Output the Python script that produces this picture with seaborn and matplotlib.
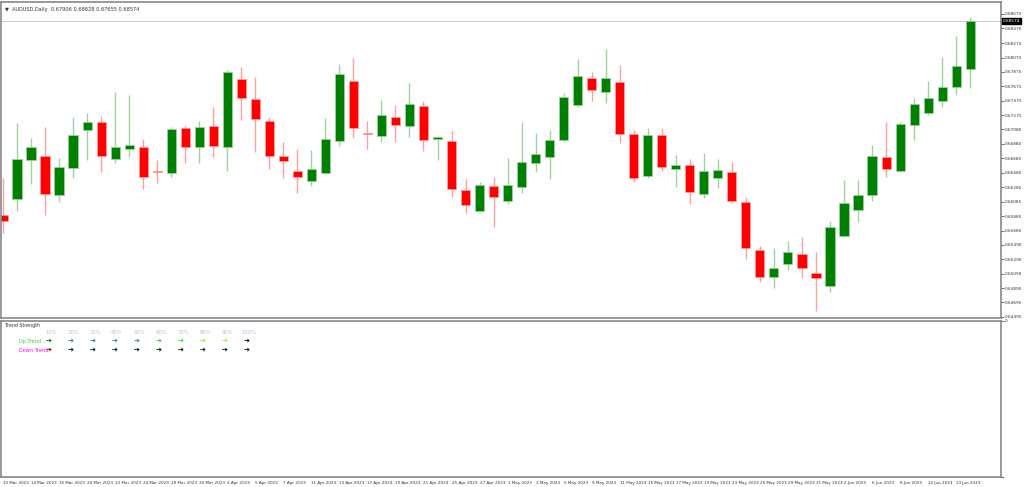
import numpy as np
import pandas as pd
import matplotlib
matplotlib.use("Agg")
import matplotlib.pyplot as plt
import seaborn as sns

opens = [0.65900,0.66121,0.66658,0.66713,0.66176,0.66548,0.67072,0.67182,0.66672,0.66810,
         0.66837,0.66507,0.66479,0.67099,0.66837,0.67127,0.66837,0.67774,0.67499,0.67196,
         0.66713,0.66507,0.66369,0.66479,0.66920,0.67747,0.67030,0.66989,0.67251,0.67127,
         0.67402,0.66948,0.66920,0.66245,0.65955,0.66300,0.66093,0.66286,0.66617,0.66700,
         0.66934,0.67416,0.67788,0.67595,0.67733,0.67016,0.66438,0.67003,0.66534,0.66589,
         0.66190,0.66410,0.66493,0.66079,0.65418,0.65046,0.65225,0.65363,0.65101,0.64922,
         0.65611,0.65969,0.66176,0.66700,0.66507,0.67140,0.67306,0.67471,0.67664,0.67906]
closes = [0.65818,0.66672,0.66837,0.66190,0.66562,0.67003,0.67182,0.66713,0.66837,0.66865,
          0.66424,0.66493,0.67085,0.66837,0.67113,0.66851,0.67871,0.67513,0.67223,0.66713,
          0.66644,0.66424,0.66534,0.66948,0.67843,0.67099,0.67016,0.67278,0.67140,0.67430,
          0.66934,0.66975,0.66259,0.66038,0.66314,0.66148,0.66314,0.66631,0.66741,0.66934,
          0.67526,0.67816,0.67623,0.67788,0.67016,0.66410,0.67003,0.66562,0.66589,0.66217,
          0.66507,0.66520,0.66093,0.65446,0.65046,0.65170,0.65390,0.65170,0.65032,0.65735,
          0.66066,0.66176,0.66713,0.66534,0.67154,0.67430,0.67513,0.67664,0.67954,0.68574]
highs = [0.66410,0.67168,0.66961,0.67113,0.66686,0.67251,0.67306,0.67265,0.67595,0.67554,
         0.66948,0.66658,0.67113,0.67140,0.67196,0.67389,0.67898,0.67940,0.67802,0.67251,
         0.66906,0.66810,0.66796,0.67237,0.67981,0.68064,0.67196,0.67485,0.67416,0.67719,
         0.67471,0.66989,0.67058,0.66396,0.66355,0.66424,0.66686,0.67182,0.67030,0.67072,
         0.67581,0.68050,0.67871,0.68188,0.67967,0.67072,0.67099,0.67099,0.66727,0.66672,
         0.66755,0.66672,0.66631,0.66148,0.65473,0.65446,0.65542,0.65597,0.65390,0.65818,
         0.66383,0.66383,0.66865,0.67182,0.67182,0.67513,0.67747,0.68078,0.68367,0.68628]
lows = [0.65652,0.65955,0.66327,0.65900,0.66079,0.66410,0.66658,0.66493,0.66617,0.66700,
        0.66259,0.66341,0.66424,0.66617,0.66617,0.66700,0.66507,0.67209,0.66768,0.66534,
        0.66410,0.66203,0.66300,0.66479,0.66851,0.66961,0.66810,0.66906,0.66906,0.66975,
        0.66782,0.66658,0.66148,0.65928,0.65942,0.65735,0.66052,0.66203,0.66493,0.66396,
        0.66906,0.67389,0.67471,0.67444,0.66892,0.66355,0.66410,0.66507,0.66286,0.66052,
        0.66135,0.66272,0.66066,0.65294,0.64977,0.64894,0.65142,0.65032,0.64577,0.64839,
        0.65611,0.65804,0.66093,0.66424,0.66507,0.66934,0.67278,0.67389,0.67554,0.67655]
dates = pd.bdate_range("2023-03-10", periods=len(opens))
price_ticks = [0.68670,0.68470,0.68270,0.68070,0.67875,0.67675,0.67475,0.67275,0.67080,
               0.66880,0.66680,0.66480,0.66285,0.66085,0.65885,0.65685,0.65490,0.65290,
               0.65090,0.64890,0.64695,0.64495]
levels = ["10%","20%","30%","40%","50%","60%","70%","80%","90%","100%"]
up_colors = ["#006400","#228B22","#228B22","#2E8B57","#2E8B57","#32CD32","#00FF00","#7FFF00","#7FFF00","#000000"]
down_colors = ["#8B0000"] + ["#000000"]*9

sns.set_theme(style="white")
plt.rcParams['font.family'] = ['DejaVu Sans']

W, H = 1024, 487
fig = plt.figure(figsize=(W/100, H/100), dpi=100)
ax = fig.add_axes([1/W, 1-318/H, 1000/W, 316/H])
ax2 = fig.add_axes([1/W, 1-477/H, 1000/W, 156/H])

df = pd.DataFrame({"d": dates, "o": opens, "c": closes, "h": highs, "l": lows})
df["x"] = np.arange(len(df))
df["up"] = df["c"] >= df["o"]
for up, g in df.groupby("up"):
    col = "#008000" if up else "#FF0000"
    wick = "#9fd49f" if up else "#ff9f9f"
    ax.vlines(g["x"], g["l"], g["h"], color=wick, lw=1.0, zorder=1)
    bottom = np.minimum(g["o"], g["c"])
    height = np.maximum(np.abs(g["c"] - g["o"]), 0.00004)
    ax.bar(g["x"], height, bottom=bottom, width=0.65, color=col,
           edgecolor=wick, linewidth=0.5, zorder=2)

ax.set_xlim(-0.14, 71.2)
ax.set_ylim(0.64481, 0.68835)
ax.axhline(closes[-1], color="#d0d0d0", lw=0.8, zorder=0)
ax.yaxis.tick_right()
ax.set_yticks(price_ticks)
ax.set_yticklabels([f"{v:.5f}" for v in price_ticks], fontsize=3.1, color="#333333")
ax.tick_params(axis="y", length=2, width=0.5, pad=1, colors="#333333")
ax.set_xticks([])
ax.text(1.002, closes[-1], f"{closes[-1]:.5f}", transform=ax.get_yaxis_transform(),
        fontsize=3.1, color="white", va="center", ha="left",
        bbox=dict(boxstyle="square,pad=0.15", fc="black", ec="black"))
ax.text(0.004, 0.985, "▼  AUDUSD,Daily  0.67906 0.68628 0.67655 0.68574",
        transform=ax.transAxes, fontsize=3.6, color="#333333", va="top")
for a in (ax, ax2):
    for s in a.spines.values():
        s.set_color("#888888")
        s.set_linewidth(1.2)

ax2.set_xlim(ax.get_xlim())
ax2.set_ylim(0, 1)
ax2.yaxis.tick_right()
ax2.set_yticks([1.0, 0.0])
ax2.set_yticklabels(["0", ""], fontsize=3.1)
ax2.tick_params(axis="y", length=2, width=0.5, pad=1, colors="#333333")
tick_idx = df["x"].values[::2]
ax2.set_xticks(tick_idx)
ax2.set_xticklabels([f"{d.day} {d.strftime('%b %Y')}" for d in df["d"].iloc[::2]],
                    fontsize=3.0, ha="left", color="#333333")
ax2.tick_params(axis="x", length=2, width=0.5, pad=1, colors="#333333")

ax2.text(0.004, 0.985, "Trend Strength", transform=ax2.transAxes, fontsize=3.4,
         color="#333333", va="top")
for k, lab in enumerate(levels):
    x = (50 + 22*k) / 1000
    ax2.text(x, 1-(332-321)/156, lab, transform=ax2.transAxes, fontsize=3.8,
             color="#b0c4de", va="center", ha="center")
    ax2.text(x - 0.002, 1-(341-321)/156, "➔", transform=ax2.transAxes, fontsize=5,
             color=up_colors[k], va="center", ha="center")
    ax2.text(x - 0.002, 1-(350-321)/156, "➔", transform=ax2.transAxes, fontsize=5,
             color=down_colors[k], va="center", ha="center")
ax2.text(18/1000, 1-(341-321)/156, "Up Trend", transform=ax2.transAxes, fontsize=3.6,
         color="#32CD32", va="center")
ax2.text(18/1000, 1-(350-321)/156, "Down Trend", transform=ax2.transAxes, fontsize=3.6,
         color="#FF00FF", va="center")

fig.savefig("out.png", dpi=100)
